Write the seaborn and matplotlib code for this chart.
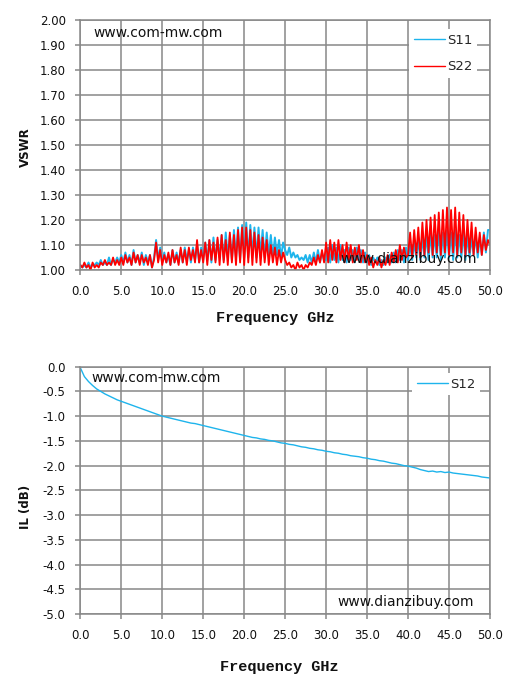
import numpy as np
import matplotlib
matplotlib.use("Agg")
import matplotlib.pyplot as plt
import seaborn as sns

# ── data ─────────────────────────────────────────────────────
# VSWR sweep, 0..50 GHz every 0.25 GHz
freq = np.linspace(0, 50, 201)

s11 = [
    1.02, 1.01, 1.02, 1.01, 1.03, 1.01, 1.02, 1.02, 1.03, 1.02, 1.04, 1.02, 1.03, 1.02, 1.05, 1.02, 1.04, 1.03, 1.05, 1.03,
    1.06, 1.03, 1.07, 1.03, 1.06, 1.02, 1.08, 1.03, 1.06, 1.03, 1.07, 1.02, 1.06, 1.03, 1.06, 1.01, 1.05, 1.12, 1.04, 1.09,
    1.03, 1.07, 1.03, 1.06, 1.02, 1.08, 1.03, 1.07, 1.03, 1.08, 1.03, 1.09, 1.04, 1.08, 1.03, 1.09, 1.04, 1.10, 1.03, 1.09,
    1.04, 1.11, 1.04, 1.12, 1.03, 1.13, 1.04, 1.12, 1.05, 1.14, 1.04, 1.15, 1.05, 1.14, 1.04, 1.16, 1.05, 1.17, 1.04, 1.18,
    1.05, 1.19, 1.05, 1.18, 1.06, 1.17, 1.05, 1.17, 1.06, 1.16, 1.05, 1.15, 1.06, 1.14, 1.05, 1.13, 1.06, 1.12, 1.05, 1.11,
    1.08, 1.06, 1.09, 1.05, 1.07, 1.05, 1.06, 1.04, 1.05, 1.04, 1.06, 1.03, 1.06, 1.03, 1.07, 1.03, 1.08, 1.03, 1.07, 1.04,
    1.04, 1.09, 1.03, 1.10, 1.04, 1.09, 1.03, 1.10, 1.04, 1.08, 1.03, 1.09, 1.04, 1.08, 1.03, 1.09, 1.04, 1.08, 1.03, 1.07,
    1.03, 1.06, 1.02, 1.05, 1.03, 1.05, 1.02, 1.04, 1.02, 1.05, 1.03, 1.06, 1.03, 1.07, 1.03, 1.08, 1.04, 1.08, 1.03, 1.09,
    1.04, 1.10, 1.04, 1.11, 1.05, 1.12, 1.04, 1.13, 1.05, 1.14, 1.04, 1.15, 1.05, 1.14, 1.05, 1.16, 1.04, 1.15, 1.05, 1.16,
    1.05, 1.15, 1.04, 1.16, 1.05, 1.14, 1.05, 1.15, 1.04, 1.14, 1.05, 1.13, 1.06, 1.14, 1.05, 1.13, 1.06, 1.15, 1.07, 1.16,
    1.16,
]

s22 = [
    1.02, 1.01, 1.03, 1.01, 1.02, 1.00, 1.03, 1.01, 1.02, 1.01, 1.03, 1.02, 1.04, 1.02, 1.03, 1.02, 1.05, 1.02, 1.04, 1.02,
    1.05, 1.02, 1.06, 1.03, 1.05, 1.02, 1.07, 1.03, 1.06, 1.02, 1.06, 1.03, 1.05, 1.02, 1.06, 1.01, 1.04, 1.11, 1.03, 1.08,
    1.02, 1.06, 1.03, 1.07, 1.02, 1.08, 1.03, 1.06, 1.02, 1.09, 1.03, 1.08, 1.02, 1.09, 1.04, 1.08, 1.03, 1.12, 1.03, 1.08,
    1.03, 1.11, 1.02, 1.12, 1.04, 1.11, 1.03, 1.13, 1.02, 1.14, 1.03, 1.12, 1.02, 1.15, 1.03, 1.14, 1.02, 1.16, 1.03, 1.17,
    1.02, 1.17, 1.03, 1.16, 1.02, 1.15, 1.03, 1.14, 1.02, 1.13, 1.03, 1.12, 1.02, 1.10, 1.03, 1.09, 1.02, 1.08, 1.03, 1.07,
    1.04, 1.02, 1.03, 1.01, 1.02, 1.00, 1.03, 1.01, 1.02, 1.00, 1.02, 1.01, 1.03, 1.02, 1.05, 1.02, 1.06, 1.03, 1.08, 1.03,
    1.11, 1.03, 1.12, 1.04, 1.11, 1.03, 1.12, 1.04, 1.10, 1.03, 1.11, 1.04, 1.10, 1.03, 1.09, 1.04, 1.10, 1.03, 1.08, 1.03,
    1.06, 1.02, 1.05, 1.01, 1.04, 1.02, 1.05, 1.01, 1.04, 1.02, 1.06, 1.02, 1.07, 1.03, 1.08, 1.03, 1.10, 1.04, 1.09, 1.05,
    1.06, 1.15, 1.05, 1.16, 1.06, 1.17, 1.05, 1.19, 1.06, 1.20, 1.07, 1.21, 1.06, 1.22, 1.07, 1.23, 1.06, 1.24, 1.07, 1.25,
    1.06, 1.24, 1.07, 1.25, 1.06, 1.23, 1.07, 1.22, 1.06, 1.20, 1.07, 1.19, 1.06, 1.17, 1.07, 1.15, 1.06, 1.14, 1.08, 1.12,
    1.10,
]

# insertion loss, every 0.5 GHz
freq_il = np.linspace(0, 50, 101)
s12 = [
    -0.02, -0.20, -0.30, -0.38, -0.45, -0.50, -0.55, -0.59, -0.63, -0.67,
    -0.70, -0.73, -0.76, -0.79, -0.82, -0.85, -0.88, -0.91, -0.94, -0.97,
    -1.00, -1.02, -1.04, -1.06, -1.08, -1.10, -1.12, -1.14, -1.15, -1.17,
    -1.19, -1.21, -1.23, -1.25, -1.27, -1.29, -1.31, -1.33, -1.35, -1.37,
    -1.39, -1.41, -1.43, -1.44, -1.46, -1.47, -1.49, -1.50, -1.52, -1.54,
    -1.55, -1.57, -1.58, -1.60, -1.62, -1.63, -1.65, -1.66, -1.68, -1.69,
    -1.71, -1.72, -1.74, -1.75, -1.77, -1.78, -1.80, -1.81, -1.82, -1.84,
    -1.85, -1.87, -1.88, -1.90, -1.91, -1.93, -1.95, -1.96, -1.98, -2.00,
    -2.01, -2.03, -2.05, -2.08, -2.10, -2.12, -2.11, -2.13, -2.12, -2.14,
    -2.13, -2.15, -2.16, -2.17, -2.18, -2.19, -2.20, -2.21, -2.23, -2.24,
    -2.25,
]

x_ticks = [0, 5, 10, 15, 20, 25, 30, 35, 40, 45, 50]
vswr_ticks = [1.0, 1.1, 1.2, 1.3, 1.4, 1.5, 1.6, 1.7, 1.8, 1.9, 2.0]
il_ticks = [0.0, -0.5, -1.0, -1.5, -2.0, -2.5, -3.0, -3.5, -4.0, -4.5, -5.0]

# ── style ────────────────────────────────────────────────────
sns.set_style("white")
plt.rcParams["font.family"] = ["DejaVu Sans"]

CYAN = "#1EB4EC"
RED = "#FF0000"
GRID = "#888888"
W, H = 515, 699

fig = plt.figure(figsize=(W / 100, H / 100), dpi=100)
ax1 = fig.add_axes([80.3 / W, 1 - 270 / H, 409.7 / W, 250 / H])
ax2 = fig.add_axes([80.3 / W, 1 - 614 / H, 409.7 / W, 247.3 / H])


def style_axes(ax, yticks, fmt):
    ax.set_xlim(0, 50)
    ax.set_xticks(x_ticks)
    ax.set_xticklabels([f"{t:.1f}" for t in x_ticks])
    ax.set_yticks(yticks)
    ax.set_yticklabels([fmt.format(t) for t in yticks])
    ax.grid(True, color=GRID, linewidth=1.1)
    ax.set_axisbelow(True)
    for sp in ax.spines.values():
        sp.set_color(GRID)
        sp.set_linewidth(1.1)
    ax.tick_params(axis="both", direction="out", length=3.5, width=1.1,
                   color=GRID, labelsize=8.5, labelcolor="#111111",
                   bottom=True, left=True)
    ax.tick_params(axis="x", pad=7)
    ax.tick_params(axis="y", pad=7)
    ax.set_xlabel("")
    ax.set_ylabel("")


# ── top: VSWR ────────────────────────────────────────────────
sns.lineplot(x=freq, y=s11, ax=ax1, color=CYAN, linewidth=1.4, label="S11")
sns.lineplot(x=freq, y=s22, ax=ax1, color=RED, linewidth=1.3, label="S22")
ax1.set_ylim(1.0, 2.0)
style_axes(ax1, vswr_ticks, "{:.2f}")
leg1 = ax1.legend(loc="upper left", bbox_to_anchor=(409 / W, 1 - 29 / H),
                  bbox_transform=fig.transFigure, frameon=True,
                  facecolor="white", edgecolor="none", framealpha=1,
                  fontsize=9.5, handlelength=2.4, handletextpad=0.15,
                  labelspacing=1.05, borderpad=0.35, borderaxespad=0)
leg1.get_frame().set_boxstyle("square", pad=0)
for ln in leg1.get_lines():
    ln.set_linewidth(1.0)
ax1.text(93 / W, 1 - 33 / H, "www.com-mw.com", transform=fig.transFigure,
         fontsize=10, va="center", ha="left", color="#111111")
ax1.text(340 / W, 1 - 259 / H, "www.dianzibuy.com", transform=fig.transFigure,
         fontsize=10, va="center", ha="left", color="#111111", zorder=5)

# ── bottom: insertion loss ───────────────────────────────────
sns.lineplot(x=freq_il, y=s12, ax=ax2, color=CYAN, linewidth=1.0, label="S12")
ax2.set_ylim(-5.0, 0.0)
style_axes(ax2, il_ticks, "{:.1f}")
leg2 = ax2.legend(loc="upper left", bbox_to_anchor=(412 / W, 1 - 373 / H),
                  bbox_transform=fig.transFigure, frameon=True,
                  facecolor="white", edgecolor="none", framealpha=1,
                  fontsize=9.5, handlelength=2.4, handletextpad=0.15,
                  borderpad=0.35, borderaxespad=0)
leg2.get_frame().set_boxstyle("square", pad=0)
ax2.text(91 / W, 1 - 378 / H, "www.com-mw.com", transform=fig.transFigure,
         fontsize=10, va="center", ha="left", color="#111111")
ax2.text(337 / W, 1 - 602 / H, "www.dianzibuy.com", transform=fig.transFigure,
         fontsize=10, va="center", ha="left", color="#111111")

# ── axis titles ──────────────────────────────────────────────
mono = dict(family=["Liberation Mono", "DejaVu Sans Mono"], fontsize=11,
            fontweight="bold", color="#111111", ha="center", va="center")
fig.text(275 / W, 1 - 318 / H, "Frequency GHz", **mono)
fig.text(279 / W, 1 - 667 / H, "Frequency GHz", **mono)
fig.text(25 / W, 1 - 147 / H, "VSWR", rotation=90, fontsize=8.5,
         fontweight="bold", ha="center", va="center", color="#111111")
fig.text(25 / W, 1 - 507 / H, "IL (dB)", rotation=90, fontsize=8.5,
         fontweight="bold", ha="center", va="center", color="#111111")

fig.savefig("out.png", dpi=100, facecolor="white")
plt.close(fig)
